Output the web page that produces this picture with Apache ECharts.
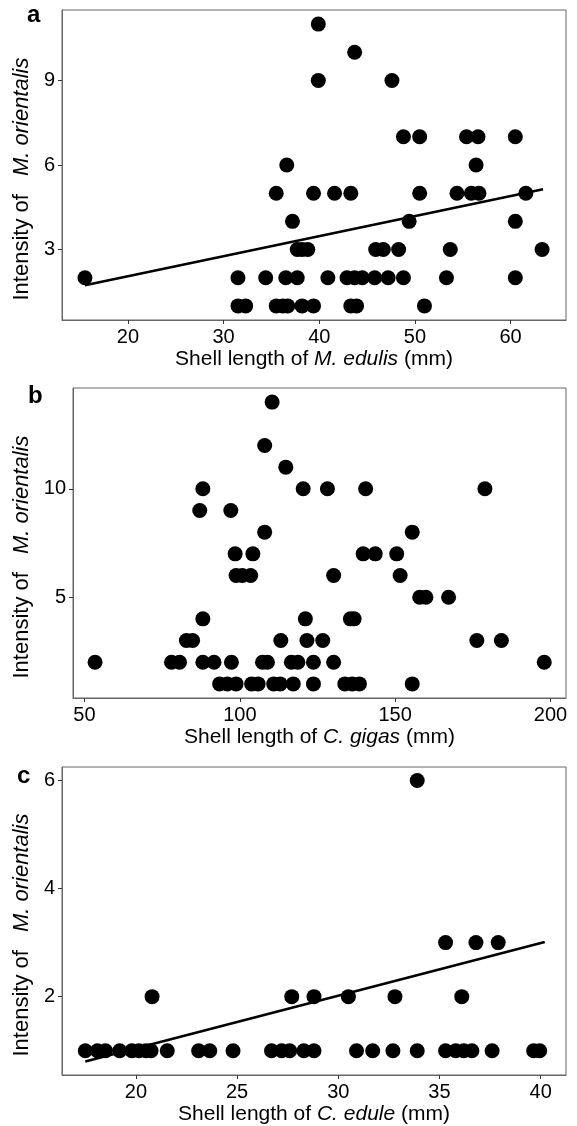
<!DOCTYPE html>
<html lang="en">
<head>
<meta charset="UTF-8">
<title>Shell length vs intensity</title>
<script src="https://cdn.jsdelivr.net/npm/echarts@6/dist/echarts.min.js"></script>
</head>
<body style="margin:0;background:#fff">
<div id="main" style="width:577px;height:1126px;"></div>
<script>
// panel a - M. edulis: shell lengths listed per intensity value
var aIntensity = [11, 10, 9, 7, 6, 5, 4, 3, 2, 1];
var aLength = [
	[39.9],
	[43.7],
	[39.9, 47.6],
	[48.8, 50.5, 55.4, 56.6, 60.5],
	[36.6, 56.4],
	[35.5, 39.4, 41.6, 43.3, 50.5, 54.4, 55.9, 56.7, 61.6],
	[37.2, 49.4, 60.5],
	[37.7, 38.2, 38.8, 45.9, 46.7, 48.3, 53.7, 63.3],
	[15.5, 31.5, 34.4, 36.5, 37.7, 40.9, 42.9, 43.7, 44.5, 45.8, 47.2, 48.8, 53.3, 60.5],
	[31.5, 32.3, 35.5, 36.2, 36.7, 38.2, 39.4, 43.3, 43.9, 51.0]
];
var aFit = [[15.5, 1.73], [63.4, 5.14]];

// panel b - C. gigas
var bIntensity = [14, 12, 11, 10, 9, 8, 7, 6, 5, 4, 3, 2, 1];
var bLength = [
	[110.4],
	[108.0],
	[114.8],
	[88.1, 120.4, 128.2, 140.5, 178.9],
	[87.1, 97.1],
	[108.0, 155.5],
	[98.5, 104.2, 139.7, 143.6, 150.5],
	[98.8, 100.8, 103.5, 130.2, 151.6],
	[157.9, 159.9, 167.2],
	[88.1, 121.1, 135.6, 136.8],
	[82.8, 84.8, 113.2, 121.6, 126.7, 176.3, 184.2],
	[53.4, 78.0, 80.6, 88.1, 91.7, 97.3, 107.3, 108.9, 116.6, 118.7, 123.7, 130.2, 198.0],
	[93.5, 96.0, 98.8, 103.8, 105.9, 110.9, 113.0, 117.2, 123.7, 133.8, 136.2, 138.5, 155.5]
];

// panel c - C. edule
var cIntensity = [6, 3, 2, 1];
var cLength = [
	[33.9],
	[35.3, 36.8, 37.9],
	[20.8, 27.7, 28.8, 30.5, 32.8, 36.1],
	[17.5, 18.1, 18.5, 19.2, 19.8, 20.15, 20.5, 20.75, 21.55, 23.1, 23.65, 24.8, 26.7, 27.2, 27.6, 28.3, 28.8,
		30.9, 31.7, 32.7, 33.9, 35.3, 35.8, 36.2, 36.6, 37.6, 39.65, 39.95]
];
var cFit = [[17.5, 0.8], [40.2, 3.01]];

var aXTicks = [20, 30, 40, 50, 60];
var aYTicks = [3, 6, 9];
var bXTicks = [50, 100, 150, 200];
var bYTicks = [5, 10];
var cXTicks = [20, 25, 30, 35, 40];
var cYTicks = [2, 4, 6];

var FONT = "'Liberation Sans', Arial, sans-serif";

function points(levels, lengths) {
	var out = [];
	for (var i = 0; i < levels.length; i++) {
		for (var j = 0; j < lengths[i].length; j++) {
			out.push([lengths[i][j], levels[i]]);
		}
	}
	return out;
}

var rich = {
	n: { fontFamily: FONT, fontSize: 21, color: '#000' },
	i: { fontFamily: FONT, fontSize: 21, color: '#000', fontStyle: 'italic' },
	yn: { fontFamily: FONT, fontSize: 22, color: '#000' },
	// italic part of the y title: gap before it, empty room after it so the text sits a bit lower
	yi: { fontFamily: FONT, fontSize: 22, color: '#000', fontStyle: 'italic', padding: [0, 28, 0, 18] }
};

function xAxis(idx, min, max, ticks, species) {
	return {
		type: 'value', gridIndex: idx, min: min, max: max,
		name: '{n|Shell length of }{i|' + species + '}{n| (mm)}',
		nameLocation: 'middle', nameGap: 29,
		nameTextStyle: { rich: rich },
		splitLine: { show: false },
		axisLine: { show: true, lineStyle: { color: '#666', width: 1 } },
		axisTick: { show: true, length: 4, customValues: ticks, lineStyle: { color: '#333' } },
		axisLabel: { customValues: ticks, color: '#000', fontSize: 20, fontFamily: FONT, margin: 7 }
	};
}

function yAxis(idx, min, max, ticks, gap) {
	return {
		type: 'value', gridIndex: idx, min: min, max: max,
		name: '{yn|Intensity of}{yi|M. orientalis}',
		nameLocation: 'middle', nameGap: gap, nameRotate: 90,
		nameTextStyle: { rich: rich },
		splitLine: { show: false },
		axisLine: { show: true, lineStyle: { color: '#666', width: 1 } },
		axisTick: { show: true, length: 4, customValues: ticks, lineStyle: { color: '#333' } },
		axisLabel: { customValues: ticks, color: '#000', fontSize: 20, fontFamily: FONT, margin: 7 }
	};
}

function dots(idx, data) {
	return {
		type: 'scatter', xAxisIndex: idx, yAxisIndex: idx, data: data,
		symbolSize: 15, itemStyle: { color: '#000', opacity: 1 }, silent: true
	};
}

function fit(idx, data) {
	return {
		type: 'line', xAxisIndex: idx, yAxisIndex: idx, data: data, z: 3,
		symbol: 'none', lineStyle: { color: '#000', width: 2.5 }, silent: true
	};
}

function label(text, left, top) {
	return {
		text: text, left: left, top: top,
		textStyle: { fontFamily: FONT, fontSize: 24, fontWeight: 'bold', color: '#000' }
	};
}

var chart = echarts.init(document.getElementById('main'));
chart.setOption({
	animation: false,
	backgroundColor: '#fff',
	title: [label('a', 22, -2), label('b', 23, 379), label('c', 12, 759)],
	grid: [
		{ left: 62, right: 11, top: 10, height: 310, show: true, borderColor: '#666', borderWidth: 1 },
		{ left: 73, right: 11, top: 388, height: 310, show: true, borderColor: '#666', borderWidth: 1 },
		{ left: 62, right: 11, top: 767, height: 310, show: true, borderColor: '#666', borderWidth: 1 }
	],
	xAxis: [
		xAxis(0, 13.1, 65.8, aXTicks, 'M. edulis'),
		xAxis(1, 46.3, 205, bXTicks, 'C. gigas'),
		xAxis(2, 16.35, 41.25, cXTicks, 'C. edule')
	],
	yAxis: [
		yAxis(0, 0.5, 11.5, aYTicks, 26),
		yAxis(1, 0.35, 14.65, bYTicks, 34),
		yAxis(2, 0.55, 6.25, cYTicks, 26)
	],
	series: [
		dots(0, points(aIntensity, aLength)),
		fit(0, aFit),
		dots(1, points(bIntensity, bLength)),
		dots(2, points(cIntensity, cLength)),
		fit(2, cFit)
	]
});
</script>
</body>
</html>
